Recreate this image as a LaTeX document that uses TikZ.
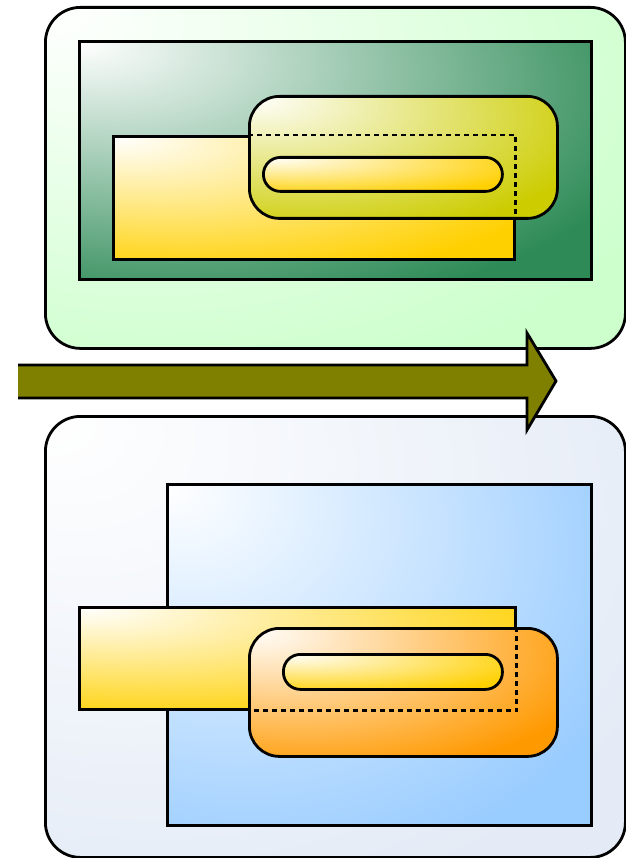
\documentclass[tikz,border=0pt]{standalone}
\usetikzlibrary{positioning}
\definecolor{panelgreen}{RGB}{204,255,204}
\definecolor{deepgreen}{RGB}{46,139,87}
\definecolor{goldfill}{RGB}{255,208,0}
\definecolor{limefill}{RGB}{204,204,0}
\definecolor{panelblue}{RGB}{228,235,246}
\definecolor{skyfill}{RGB}{153,204,255}
\definecolor{orangefill}{RGB}{255,153,0}
\definecolor{arrowolive}{RGB}{128,128,0}
\colorlet{glowend}{white}
\pgfdeclareradialshading[glowend]{glow}{\pgfpoint{-25bp}{25bp}}%
  {color(0bp)=(white); color(46bp)=(glowend); color(100bp)=(glowend)}
\tikzset{
  frame/.style={draw, line width=2.8pt, inner sep=0pt, anchor=north west},
  glow/.style={/utils/exec={\colorlet{glowend}{#1}}, shade, shading=glow},
  hidden/.style={draw, line width=2.8pt, dash pattern=on 5pt off 4pt},
  arrowbody/.style={draw, fill=arrowolive, line width=2.8pt, line join=miter},
}
\begin{document}
\begin{tikzpicture}[x=1pt, y=-1pt]
  \useasboundingbox (0,0) rectangle (625,858);
  % upper panel
  \node[frame, glow=panelgreen, rounded corners=35pt, minimum width=580pt, minimum height=341pt] (toppanel) at (44,6) {};
  \node[frame, glow=deepgreen, minimum width=512pt, minimum height=238pt] (topfield) at (78,40) {};
  \node[frame, glow=goldfill, minimum width=401pt, minimum height=123pt] (topbar) at (112,135) {};
  \node[frame, glow=limefill, rounded corners=30pt, minimum width=308pt, minimum height=122pt] (topcap) at (248,95) {};
  \draw[hidden] (topcap.west |- topbar.north) -- (topbar.north east) -- (topbar.east |- topcap.south);
  \node[frame, glow=goldfill, rounded corners=17pt, minimum width=239pt, minimum height=34pt] (toppill) at (262,156) {};
  % lower panel
  \node[frame, glow=panelblue, rounded corners=35pt, minimum width=580pt, minimum height=441pt] (botpanel) at (44,415) {};
  \node[frame, glow=skyfill, minimum width=424pt, minimum height=341pt] (botfield) at (166,483) {};
  \node[frame, glow=goldfill, minimum width=436pt, minimum height=102pt] (botbar) at (78,606) {};
  \node[frame, glow=orangefill, rounded corners=30pt, minimum width=308pt, minimum height=128pt] (botcap) at (248,627) {};
  \draw[hidden] (botbar.east |- botcap.north) -- (botbar.south east) -- (botcap.west |- botbar.south);
  \node[frame, glow=goldfill, rounded corners=17pt, minimum width=219pt, minimum height=35pt] (botpill) at (282,653) {};
  % arrow between the panels
  \draw[arrowbody] (18,365) -- (527,365) -- (527,333) -- (556,381) -- (527,430) -- (527,398) -- (18,398);
\end{tikzpicture}
\end{document}
